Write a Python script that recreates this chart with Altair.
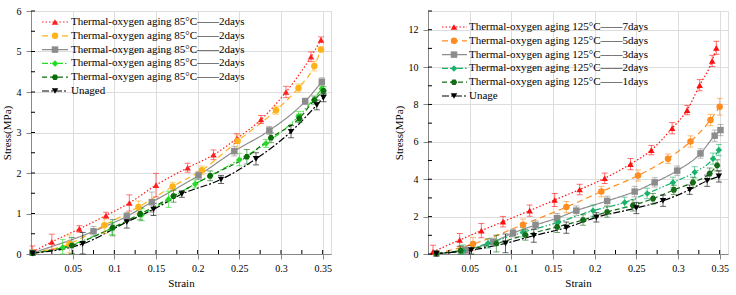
import altair as alt
import pandas as pd

FONT = "Liberation Serif, Times New Roman, Times, serif"
XMAX = 0.36
W, H = 300, 243

# ---------------- Left panel (85 °C) ----------------
L_ids = ["L1", "L2", "L3", "L4", "L5", "L6"]
L_labels = ["Thermal-oxygen aging 85°C——2days"] * 5 + ["Unaged"]
L_colors = ["#ff1f1f", "#ffb31a", "#8c8c8c", "#22dd22", "#0a6e0a", "#000000"]

L_red_x = [0.002, 0.025, 0.058, 0.090, 0.118, 0.150, 0.188, 0.219, 0.247, 0.276, 0.306, 0.336, 0.348]
L_red_y = [0.05, 0.30, 0.62, 0.95, 1.26, 1.70, 2.13, 2.45, 2.85, 3.32, 4.00, 4.87, 5.29]
L_red_e = [0.15, 0.19, 0.08, 0.08, 0.20, 0.29, 0.11, 0.12, 0.12, 0.10, 0.14, 0.12, 0.07]

L_org_x = [0.002, 0.046, 0.088, 0.129, 0.170, 0.205, 0.248, 0.294, 0.321, 0.340, 0.348]
L_org_y = [0.03, 0.25, 0.71, 1.16, 1.67, 2.07, 2.79, 3.55, 4.10, 4.64, 5.05]
L_org_e = [0.08, 0.22, 0.20, 0.15, 0.10, 0.10, 0.15, 0.10, 0.10, 0.12, 0.06]

L_gry_x = [0.002, 0.075, 0.115, 0.145, 0.201, 0.244, 0.286, 0.329, 0.349]
L_gry_y = [0.03, 0.56, 0.93, 1.28, 1.94, 2.54, 3.05, 3.77, 4.25]
L_gry_e = [0.05, 0.12, 0.10, 0.25, 0.10, 0.12, 0.10, 0.08, 0.10]

L_lgr_x = [0.002, 0.038, 0.097, 0.133, 0.165, 0.197, 0.250, 0.282, 0.321, 0.349]
L_lgr_y = [0.02, 0.16, 0.63, 0.97, 1.35, 1.73, 2.33, 2.73, 3.40, 4.08]
L_lgr_e = [0.05, 0.20, 0.15, 0.15, 0.20, 0.10, 0.15, 0.10, 0.12, 0.10]

L_dgr_x = [0.002, 0.049, 0.098, 0.131, 0.171, 0.215, 0.259, 0.288, 0.322, 0.340, 0.351]
L_dgr_y = [0.02, 0.21, 0.65, 0.99, 1.43, 1.93, 2.40, 2.87, 3.35, 3.80, 4.03]
L_dgr_e = [0.05, 0.20, 0.20, 0.15, 0.15, 0.12, 0.18, 0.12, 0.10, 0.10, 0.10]

L_blk_x = [0.002, 0.062, 0.115, 0.147, 0.181, 0.228, 0.270, 0.312, 0.343, 0.351]
L_blk_y = [0.02, 0.25, 0.79, 1.10, 1.48, 1.84, 2.35, 3.02, 3.68, 3.86]
L_blk_e = [0.05, 0.28, 0.15, 0.15, 0.08, 0.10, 0.15, 0.15, 0.12, 0.10]

L_yticks = [0, 1, 2, 3, 4, 5, 6]
L_ytick_marks = [0, 0.5, 1, 1.5, 2, 2.5, 3, 3.5, 4, 4.5, 5, 5.5, 6]

# ---------------- Right panel (125 °C) ----------------
R_ids = ["R1", "R2", "R3", "R4", "R5", "R6"]
R_labels = ["Thermal-oxygen aging 125°C——7days", "Thermal-oxygen aging 125°C——5days",
            "Thermal-oxygen aging 125°C——3days", "Thermal-oxygen aging 125°C——2days",
            "Thermal-oxygen aging 125°C——1days", "Unage"]
R_colors = ["#ff1010", "#ff8c1f", "#8c8c8c", "#19b26b", "#166b16", "#000000"]

R_red_x = [0.006, 0.038, 0.064, 0.090, 0.122, 0.152, 0.182, 0.212, 0.243, 0.268, 0.293, 0.311, 0.326, 0.341, 0.346]
R_red_y = [0.12, 0.75, 1.25, 1.73, 2.32, 2.89, 3.45, 4.05, 4.81, 5.56, 6.73, 7.70, 9.03, 10.33, 11.03]
R_red_e = [0.35, 0.35, 0.38, 0.28, 0.30, 0.35, 0.28, 0.28, 0.30, 0.25, 0.30, 0.25, 0.30, 0.30, 0.35]

R_org_x = [0.010, 0.054, 0.114, 0.166, 0.208, 0.252, 0.288, 0.315, 0.339, 0.350]
R_org_y = [0.02, 0.53, 1.57, 2.51, 3.34, 4.20, 5.10, 6.02, 7.17, 7.88]
R_org_e = [0.05, 0.35, 0.30, 0.30, 0.28, 0.30, 0.25, 0.30, 0.30, 0.45]

R_gry_x = [0.010, 0.045, 0.078, 0.102, 0.129, 0.155, 0.178, 0.215, 0.248, 0.272, 0.299, 0.327, 0.344, 0.351]
R_gry_y = [0.02, 0.20, 0.65, 1.12, 1.55, 1.92, 2.32, 2.84, 3.34, 3.83, 4.46, 5.38, 6.33, 6.63]
R_gry_e = [0.05, 0.20, 0.20, 0.20, 0.22, 0.25, 0.25, 0.25, 0.28, 0.25, 0.25, 0.25, 0.30, 0.30]

R_tea_x = [0.010, 0.042, 0.072, 0.114, 0.156, 0.198, 0.236, 0.263, 0.294, 0.320, 0.342, 0.349]
R_tea_y = [0.02, 0.18, 0.57, 1.16, 1.69, 2.32, 2.76, 3.24, 3.83, 4.37, 5.10, 5.56]
R_tea_e = [0.05, 0.30, 0.25, 0.25, 0.30, 0.30, 0.28, 0.28, 0.28, 0.30, 0.30, 0.30]

R_dgr_x = [0.010, 0.039, 0.082, 0.117, 0.155, 0.186, 0.215, 0.246, 0.270, 0.295, 0.318, 0.338, 0.347]
R_dgr_y = [0.02, 0.18, 0.56, 1.02, 1.45, 1.82, 2.25, 2.60, 2.96, 3.43, 3.83, 4.30, 4.74]
R_dgr_e = [0.05, 0.25, 0.45, 0.28, 0.30, 0.28, 0.28, 0.30, 0.28, 0.25, 0.28, 0.30, 0.30]

R_blk_x = [0.010, 0.052, 0.093, 0.127, 0.166, 0.202, 0.250, 0.282, 0.314, 0.335, 0.349]
R_blk_y = [0.02, 0.21, 0.57, 0.98, 1.41, 1.96, 2.46, 2.85, 3.44, 3.92, 4.15]
R_blk_e = [0.05, 0.25, 0.50, 0.35, 0.30, 0.25, 0.30, 0.30, 0.25, 0.30, 0.30]

R_yticks = [0, 2, 4, 6, 8, 10, 12]
R_ytick_marks = [0, 1, 2, 3, 4, 5, 6, 7, 8, 9, 10, 11, 12, 13]

X_labels = [0.05, 0.1, 0.15, 0.2, 0.25, 0.3, 0.35]
X_tick_marks = [0.025, 0.05, 0.075, 0.1, 0.125, 0.15, 0.175, 0.2, 0.225, 0.25, 0.275, 0.3, 0.325, 0.35]

DASHES = [[1.5, 2], [6, 4], [1, 0], [6, 2, 1.5, 2, 1.5, 2], [5, 3], [7, 2, 2, 2]]
HEX = "M-1,0L-0.5,-0.866L0.5,-0.866L1,0L0.5,0.866L-0.5,0.866Z"
SHAPES = ["triangle-up", "circle", "square", "diamond", HEX, "triangle-down"]


def panel(ids, labels, colors, xs, ys, es, ydom, yticks, ytick_marks,
          leg_y0, leg_y1, leg_x0, leg_x1, leg_xm, leg_xt):
    rows = []
    for sid, sx, sy, se in zip(ids, xs, ys, es):
        for x, y, e in zip(sx, sy, se):
            rows.append(dict(series=sid, x=x, y=y, lo=max(y - e, 0), hi=y + e))
    df = pd.DataFrame(rows)

    col = alt.Color("series:N", scale=alt.Scale(domain=ids, range=colors), legend=None)
    dash = alt.StrokeDash("series:N", scale=alt.Scale(domain=ids, range=DASHES), legend=None)
    shp = alt.Shape("series:N", scale=alt.Scale(domain=ids, range=SHAPES), legend=None)

    ax_x = alt.Axis(values=X_labels, format="~g", title="Strain", labelPadding=4, titlePadding=4,
                    labelFont=FONT, titleFont=FONT, titleFontWeight="normal")
    ax_y = alt.Axis(values=yticks, title="Stress(MPa)", labelPadding=5, titlePadding=4,
                    labelFont=FONT, titleFont=FONT, titleFontWeight="normal")
    sx = alt.Scale(domain=[0, XMAX], nice=False, zero=False)
    sy = alt.Scale(domain=ydom, nice=False, zero=False)
    X = alt.X("x:Q", scale=sx, axis=ax_x)

    base = alt.Chart(df)
    line = base.mark_line(interpolate="monotone", strokeWidth=1.2).encode(
        x=X, y=alt.Y("y:Q", scale=sy, axis=ax_y), color=col, strokeDash=dash,
        detail="series:N")
    err = base.mark_rule(strokeWidth=1, opacity=0.6).encode(
        x=X, y=alt.Y("lo:Q", scale=sy, axis=ax_y), y2="hi:Q", color=col)
    cap_lo = base.mark_tick(orient="horizontal", size=6, thickness=1, opacity=0.6).encode(
        x=X, y=alt.Y("lo:Q", scale=sy, axis=ax_y), color=col)
    cap_hi = base.mark_tick(orient="horizontal", size=6, thickness=1, opacity=0.6).encode(
        x=X, y=alt.Y("hi:Q", scale=sy, axis=ax_y), color=col)
    pts = base.mark_point(filled=True, size=42, opacity=1).encode(
        x=X, y=alt.Y("y:Q", scale=sy, axis=ax_y), color=col, shape=shp)

    ytk = alt.Chart(pd.DataFrame({"y": ytick_marks})).mark_rule(color="black", strokeWidth=1).encode(
        y=alt.Y("y:Q", scale=sy, axis=ax_y), x=alt.value(0), x2=alt.value(4))
    xtk = alt.Chart(pd.DataFrame({"x": X_tick_marks})).mark_rule(color="black", strokeWidth=1).encode(
        x=X, y=alt.value(H), y2=alt.value(H - 4))

    main = alt.layer(line, err, cap_lo, cap_hi, pts, ytk, xtk)

    leg_df = pd.DataFrame({"series": ids, "label": labels})
    LY = alt.Y("series:N", scale=alt.Scale(type="point", domain=ids, range=[leg_y0, leg_y1], padding=0),
               axis=None)
    lb = alt.Chart(leg_df)
    l_rule = lb.mark_rule(strokeWidth=1.2).encode(
        y=LY, x=alt.value(leg_x0), x2=alt.value(leg_x1), color=col, strokeDash=dash)
    l_pt = lb.mark_point(filled=True, size=42, opacity=1).encode(
        y=LY, x=alt.value(leg_xm), color=col, shape=shp)
    l_txt = lb.mark_text(align="left", baseline="middle", font=FONT, fontSize=11, color="black").encode(
        y=LY, x=alt.value(leg_xt), text="label:N")
    legend = alt.layer(l_rule, l_pt, l_txt)

    return alt.layer(main, legend).resolve_scale(y="independent").properties(width=W, height=H)


left = panel(L_ids, L_labels, L_colors,
             [L_red_x, L_org_x, L_gry_x, L_lgr_x, L_dgr_x, L_blk_x],
             [L_red_y, L_org_y, L_gry_y, L_lgr_y, L_dgr_y, L_blk_y],
             [L_red_e, L_org_e, L_gry_e, L_lgr_e, L_dgr_e, L_blk_e],
             [0, 6], L_yticks, L_ytick_marks, 11, 80, 11, 37, 24, 40)

right = panel(R_ids, R_labels, R_colors,
              [R_red_x, R_org_x, R_gry_x, R_tea_x, R_dgr_x, R_blk_x],
              [R_red_y, R_org_y, R_gry_y, R_tea_y, R_dgr_y, R_blk_y],
              [R_red_e, R_org_e, R_gry_e, R_tea_e, R_dgr_e, R_blk_e],
              [0, 13], R_yticks, R_ytick_marks, 16, 85, 14, 39, 26, 41)

chart = alt.hconcat(left, right, spacing=60).resolve_scale(
    color="independent", shape="independent", strokeDash="independent",
    x="independent", y="independent"
).properties(
    padding={"left": 0, "top": 5, "right": 2, "bottom": 2}
).configure_view(
    stroke="black", strokeWidth=1.6
).configure_axis(
    labelFont=FONT, labelFontSize=12, labelColor="black",
    titleFont=FONT, titleFontSize=12, titleFontWeight="normal", titleColor="black",
    ticks=False, domain=False, grid=False
).configure_text(font=FONT).configure(background="white", font=FONT)

chart.save("out.html", embed_options={"renderer": "svg", "actions": False})
